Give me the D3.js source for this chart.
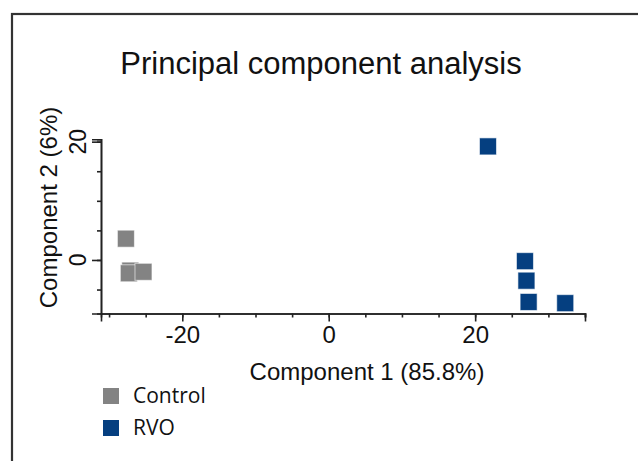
<!DOCTYPE html>
<html>
<head>
<meta charset="utf-8">
<script src="https://cdn.jsdelivr.net/npm/d3@7"></script>
<style>
  body { margin: 0; background: #fff; }
</style>
</head>
<body>
<div id="chart"></div>
<script>
// data
const groups = ['Control', 'RVO'];
const colors = ['#838383', '#053f80'];
const controlX = [-27.7, -27.1, -27.3, -25.3];
const controlY = [3.6, -1.8, -2.25, -2.0];
const rvoX = [21.75, 26.8, 27.0, 27.3, 32.3];
const rvoY = [19.2, -0.2, -3.5, -7.1, -7.3];
const xTicks = [-20, 0, 20];
const yTicks = [0, 20];

const w = 638;
const h = 461;

const svg = d3.select('#chart')
  .append('svg')
  .attr('width', w)
  .attr('height', h)

// outer frame
svg.append('rect')
  .attr('x', 12)
  .attr('y', 14)
  .attr('width', 700)
  .attr('height', 600)
  .attr('fill', 'none')
  .attr('stroke', '#333')
  .attr('stroke-width', 2.2)

const xScale = d3.scaleLinear()
  .domain([-31.1, 35])
  .range([101, 585])

const yScale = d3.scaleLinear()
  .domain([-9.05, 20.4])
  .range([313.5, 139.3])

const font = 'Liberation Sans, Arial, sans-serif';

svg.append('text')
  .attr('x', 321)
  .attr('y', 74)
  .attr('text-anchor', 'middle')
  .attr('font-family', font)
  .attr('font-size', 31)
  .attr('fill', '#111')
  .text('Principal component analysis')

// x axis: minor ticks every 5, labels every 20
const xAxisMinor = d3.axisBottom(xScale)
  .tickValues(d3.range(-30, 36, 5))
  .tickSize(4)
  .tickFormat('')
const xAxis = d3.axisBottom(xScale)
  .tickValues(xTicks)
  .tickSize(8)
  .tickPadding(4)
  .tickFormat(d => String(d)) // plain hyphen, not the unicode minus

const gx = svg.append('g')
  .attr('transform', 'translate(0,313.5)')
gx.append('g').call(xAxisMinor)
gx.append('g').call(xAxis)
gx.selectAll('.domain').attr('stroke', '#222').attr('stroke-width', 1.6)
gx.selectAll('.tick line').attr('stroke', '#222').attr('stroke-width', 1.6)
gx.selectAll('text')
  .attr('font-family', font)
  .attr('font-size', 24)
  .attr('fill', '#111')

// y axis with rotated labels
const yAxisMinor = d3.axisLeft(yScale)
  .tickValues(d3.range(-5, 21, 5))
  .tickSize(4)
  .tickFormat('')
const yAxis = d3.axisLeft(yScale)
  .tickValues(yTicks)
  .tickSize(9)
  .tickFormat('')

const gy = svg.append('g')
  .attr('transform', 'translate(101,0)')
gy.append('g').call(yAxisMinor)
gy.append('g').call(yAxis)
gy.selectAll('.domain').attr('stroke', '#222').attr('stroke-width', 1.6)
gy.selectAll('.tick line').attr('stroke', '#222').attr('stroke-width', 1.6)

svg.selectAll('.ylab')
  .data(yTicks)
  .enter()
  .append('text')
  .attr('class', 'ylab')
  .attr('transform', d => 'translate(86,' + yScale(d) + ') rotate(-90)')
  .attr('text-anchor', 'middle')
  .attr('font-family', font)
  .attr('font-size', 23)
  .attr('fill', '#111')
  .text(d => d)

svg.append('text')
  .attr('x', 367)
  .attr('y', 380)
  .attr('text-anchor', 'middle')
  .attr('font-family', font)
  .attr('font-size', 24)
  .attr('fill', '#111')
  .text('Component 1 (85.8%)')

svg.append('text')
  .attr('transform', 'translate(57,207.5) rotate(-90)')
  .attr('text-anchor', 'middle')
  .attr('font-family', font)
  .attr('font-size', 24)
  .attr('fill', '#111')
  .text('Component 2 (6%)')

// points
const size = 17;
const series = [
  { name: groups[0], xs: controlX, ys: controlY, color: colors[0] },
  { name: groups[1], xs: rvoX, ys: rvoY, color: colors[1] }
];

series.forEach(s => {
  svg.append('g')
    .selectAll('rect')
    .data(s.xs.map((x, i) => [x, s.ys[i]]))
    .enter()
    .append('rect')
    .attr('x', d => xScale(d[0]) - size / 2)
    .attr('y', d => yScale(d[1]) - size / 2)
    .attr('width', size)
    .attr('height', size)
    .attr('fill', s.color)
    .attr('stroke', '#fff')
    .attr('stroke-opacity', 0.6)
    .attr('stroke-width', 1)
})

// legend
const legend = svg.append('g')
legend.selectAll('rect')
  .data(groups)
  .enter()
  .append('rect')
  .attr('x', 103)
  .attr('y', (d, i) => 388 + i * 32)
  .attr('width', 16)
  .attr('height', 16)
  .attr('fill', (d, i) => colors[i])

legend.selectAll('text')
  .data(groups)
  .enter()
  .append('text')
  .attr('x', 133)
  .attr('y', (d, i) => 403 + i * 32)
  .attr('font-family', 'Open Sans, Noto Sans, sans-serif')
  .attr('font-size', 21)
  .attr('fill', '#111')
  .text(d => d)
</script>
</body>
</html>
